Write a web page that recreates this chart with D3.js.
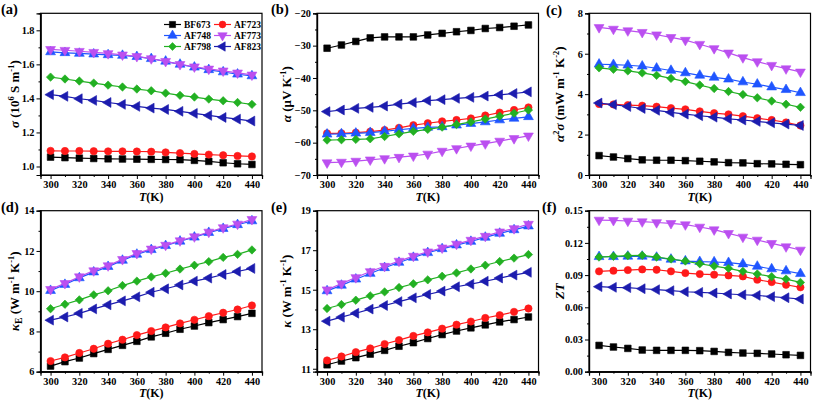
<!DOCTYPE html>
<html><head><meta charset="utf-8">
<script src="https://cdn.jsdelivr.net/npm/d3@7"></script>
<style>body{margin:0;background:#fff}svg{display:block}text{font-family:"Liberation Serif","Times New Roman",serif;font-weight:bold}</style>
</head><body>
<svg id="chart" width="813" height="402"></svg>
<script>
const temps = [300,310,320,330,340,350,360,370,380,390,400,410,420,430,440];
const samples = ["BF673","AF723","AF748","AF773","AF798","AF823"];
const colors = ["#000000","#ff1a1a","#1f55ff","#bb4ff0","#22b022","#1c1cae"];
const shapes = ["square","circle","up","down","diamond","left"];

// (a) electrical conductivity, 10^6 S/m
const sigma = [
 [1.055,1.052,1.049,1.047,1.045,1.044,1.043,1.042,1.041,1.040,1.036,1.030,1.022,1.016,1.012],
 [1.092,1.091,1.091,1.090,1.089,1.089,1.088,1.087,1.083,1.079,1.074,1.070,1.066,1.062,1.059],
 [1.673,1.668,1.664,1.660,1.656,1.652,1.645,1.633,1.618,1.600,1.583,1.568,1.555,1.542,1.532],
 [1.688,1.683,1.677,1.671,1.664,1.656,1.647,1.634,1.618,1.600,1.586,1.573,1.562,1.550,1.538],
 [1.525,1.514,1.502,1.490,1.478,1.467,1.455,1.445,1.431,1.418,1.408,1.396,1.386,1.376,1.365],
 [1.422,1.412,1.398,1.388,1.376,1.365,1.353,1.343,1.335,1.324,1.312,1.300,1.288,1.278,1.267]
];
// (b) Seebeck coefficient, uV/K
const alpha = [
 [-30.8,-29.8,-28.7,-27.6,-27.3,-27.3,-27.3,-26.7,-26.2,-25.7,-25.3,-24.7,-24.4,-24.0,-23.6],
 [-57.1,-57.1,-56.9,-56.6,-56.1,-55.4,-54.6,-54.0,-53.4,-53.0,-52.5,-51.6,-50.7,-49.9,-49.1],
 [-57.4,-57.3,-57.1,-56.9,-56.5,-56.0,-55.6,-55.3,-55.1,-54.6,-54.1,-53.6,-53.0,-52.5,-52.0],
 [-66.2,-66.0,-65.7,-65.3,-64.9,-64.5,-64.1,-63.5,-62.6,-61.8,-61.0,-60.3,-59.5,-58.7,-57.9],
 [-59.2,-59.1,-59.0,-58.8,-58.1,-57.3,-56.5,-55.9,-55.2,-54.4,-53.6,-52.7,-51.8,-50.9,-49.9],
 [-50.4,-49.9,-49.4,-49.1,-48.7,-48.1,-47.6,-47.0,-46.7,-46.3,-46.0,-45.6,-45.2,-44.8,-44.3]
];
// (c) power factor, mW m^-1 K^-2
const powerFactor = [
 [0.96,0.89,0.81,0.75,0.73,0.73,0.71,0.68,0.65,0.61,0.60,0.56,0.55,0.53,0.51],
 [3.51,3.49,3.46,3.43,3.38,3.31,3.25,3.15,3.06,3.00,2.91,2.81,2.72,2.60,2.45],
 [5.48,5.46,5.43,5.38,5.28,5.17,5.05,4.93,4.83,4.74,4.60,4.49,4.35,4.22,4.07],
 [7.30,7.22,7.14,7.06,6.94,6.81,6.67,6.47,6.26,6.04,5.81,5.61,5.43,5.26,5.10],
 [5.30,5.23,5.15,5.05,4.93,4.78,4.62,4.45,4.28,4.13,3.98,3.82,3.66,3.50,3.35],
 [3.56,3.48,3.39,3.29,3.20,3.10,3.01,2.93,2.86,2.78,2.72,2.65,2.58,2.52,2.45]
];
// (d) electronic thermal conductivity
const kappaE = [
 [6.28,6.50,6.68,6.90,7.11,7.31,7.51,7.73,7.91,8.11,8.27,8.44,8.59,8.74,8.90],
 [6.53,6.71,6.93,7.14,7.39,7.59,7.82,8.02,8.20,8.40,8.58,8.76,8.93,9.09,9.29],
 [10.03,10.33,10.66,10.95,11.22,11.53,11.83,12.06,12.26,12.48,12.68,12.91,13.11,13.30,13.49],
 [10.09,10.39,10.72,11.02,11.27,11.58,11.88,12.10,12.29,12.51,12.71,12.94,13.16,13.34,13.57],
 [9.13,9.35,9.57,9.82,10.02,10.28,10.50,10.71,10.89,11.10,11.29,11.47,11.68,11.83,12.05],
 [8.56,8.72,8.90,9.12,9.32,9.52,9.72,9.95,10.12,10.31,10.50,10.65,10.83,10.98,11.13]
];
// (e) total thermal conductivity
const kappa = [
 [11.20,11.39,11.56,11.74,11.93,12.14,12.32,12.53,12.73,12.91,13.07,13.22,13.37,13.49,13.62],
 [11.42,11.62,11.84,12.03,12.25,12.45,12.66,12.84,13.03,13.23,13.39,13.57,13.71,13.88,14.05],
 [14.94,15.22,15.53,15.82,16.11,16.38,16.63,16.87,17.07,17.26,17.44,17.65,17.85,18.03,18.22],
 [15.00,15.31,15.62,15.92,16.19,16.45,16.70,16.92,17.12,17.31,17.51,17.71,17.93,18.10,18.32],
 [14.05,14.25,14.47,14.69,14.89,15.11,15.30,15.50,15.68,15.85,16.05,16.24,16.43,16.60,16.78],
 [13.41,13.61,13.81,14.02,14.20,14.40,14.59,14.76,14.93,15.15,15.28,15.43,15.59,15.74,15.88]
];
// (f) figure of merit ZT
const zt = [
 [0.0245,0.0230,0.0217,0.0202,0.0199,0.0199,0.0199,0.0196,0.0189,0.0180,0.0174,0.0171,0.0165,0.0158,0.0152],
 [0.0935,0.0941,0.0947,0.0953,0.0950,0.0935,0.0919,0.0910,0.0904,0.0897,0.0888,0.0857,0.0835,0.0810,0.0786],
 [0.1071,0.1071,0.1075,0.1075,0.1065,0.1047,0.1031,0.1025,0.1022,0.1016,0.1003,0.0981,0.0957,0.0938,0.0913],
 [0.1413,0.1410,0.1404,0.1398,0.1390,0.1382,0.1370,0.1348,0.1323,0.1289,0.1255,0.1227,0.1196,0.1165,0.1134],
 [0.1068,0.1075,0.1081,0.1084,0.1068,0.1050,0.1031,0.1006,0.0984,0.0963,0.0935,0.0910,0.0885,0.0863,0.0832],
 [0.0792,0.0786,0.0783,0.0773,0.0764,0.0755,0.0745,0.0739,0.0733,0.0724,0.0717,0.0711,0.0699,0.0689,0.0677]
];

const xTicks = [300,320,340,360,380,400,420,440];
const xMinor = [310,330,350,370,390,410,430];
const ticksA = [1.0,1.2,1.4,1.6,1.8];
const ticksB = [-70,-60,-50,-40,-30,-20];
const ticksC = [0,2,4,6,8];
const ticksD = [6,8,10,12,14];
const ticksE = [11,13,15,17,19];
const ticksF = [0,0.03,0.06,0.09,0.12,0.15];

const svg = d3.select("#chart");
const cols = [{l:40.5,r:262},{l:317,r:538.5},{l:589,r:810.5}];
const rows = [{t:13.3,b:175},{t:210.7,b:371.7}];
const YT = 13;

function symbolPath(shape, s) {
  const tri = d3.symbol().type(d3.symbolTriangle).size(s)();
  switch(shape){
    case "square": return {d:d3.symbol().type(d3.symbolSquare).size(s)(), rot:0};
    case "circle": return {d:d3.symbol().type(d3.symbolCircle).size(s*0.95)(), rot:0};
    case "diamond": return {d:d3.symbol().type(d3.symbolSquare).size(s*0.8)(), rot:45};
    case "up": return {d:tri, rot:0};
    case "down": return {d:tri, rot:180};
    case "left": return {d:tri, rot:-90};
  }
}

function addRich(textSel, parts, baseSize) {
  const up = baseSize*0.4;
  parts.forEach(p => {
    const t = textSel.append("tspan").text(p.t);
    if (p.i) t.attr("font-style","italic");
    if (p.sup) t.attr("font-size", baseSize*0.65).attr("dy", -up);
    if (p.sub) t.attr("font-size", baseSize*0.75).attr("dy", baseSize*0.25);
    if (p.back === "down") t.attr("dy", up);
    if (p.back === "subup") t.attr("dy", -baseSize*0.25);
  });
}

function drawPanel(cfg) {
  const c = cols[cfg.col], r = rows[cfg.row];
  const x = d3.scaleLinear().domain([293,447]).range([c.l,c.r]);
  const y = d3.scaleLinear().domain(cfg.yDomain).range([r.b,r.t]);
  const g = svg.append("g");

  cfg.data.forEach((vals, si) => {
    const pts = temps.map((t,i)=>[t, vals[i]]);
    g.append("path").datum(pts)
      .attr("fill","none").attr("stroke",colors[si]).attr("stroke-width",1.2)
      .attr("d", d3.line().x(d=>x(d[0])).y(d=>y(d[1])));
    const isTri = ["up","down","left"].includes(shapes[si]);
    const sp = symbolPath(shapes[si], isTri ? 42 : 44);
    g.selectAll(null).data(pts).join("path")
      .attr("d", sp.d)
      .attr("transform", d=>`translate(${x(d[0])},${y(d[1])}) rotate(${sp.rot})`)
      .attr("fill", colors[si]).attr("stroke", colors[si]).attr("stroke-width",0.6);
  });

  g.append("rect").attr("x",c.l).attr("y",r.t).attr("width",c.r-c.l).attr("height",r.b-r.t)
    .attr("fill","none").attr("stroke","#000").attr("stroke-width",1.2);

  g.append("g").attr("transform",`translate(0,${r.b})`)
    .call(d3.axisBottom(x).tickValues(xTicks).tickSize(4).tickPadding(1.5).tickFormat(d3.format("d")));
  g.append("g").attr("transform",`translate(0,${r.b})`)
    .call(d3.axisBottom(x).tickValues(xMinor).tickSize(2).tickFormat(""));
  g.append("g").attr("transform",`translate(${c.l},0)`)
    .call(d3.axisLeft(y).tickValues(cfg.ticks).tickSize(4).tickPadding(2).tickFormat(d3.format(cfg.fmt)));
  const minor = [];
  for (let i=0;i<cfg.ticks.length-1;i++) minor.push((cfg.ticks[i]+cfg.ticks[i+1])/2);
  g.append("g").attr("transform",`translate(${c.l},0)`)
    .call(d3.axisLeft(y).tickValues(minor).tickSize(2).tickFormat(""));
  g.selectAll(".domain").attr("stroke","#000").attr("stroke-width",1.2);
  g.selectAll(".tick line").attr("stroke","#000").attr("stroke-width",1);
  g.selectAll(".tick text").attr("font-size",10.3).attr("font-family","Liberation Serif").attr("font-weight","bold").attr("fill","#000");

  const xt = g.append("text").attr("x",(c.l+c.r)/2).attr("y", r.b+25.5)
    .attr("text-anchor","middle").attr("font-size",12);
  addRich(xt, [{t:"T",i:true},{t:"(K)"}], 12);

  const yt = g.append("text").attr("text-anchor","middle").attr("font-size",YT)
    .attr("transform",`translate(${cfg.ytx},${(r.t+r.b)/2}) rotate(-90)`);
  addRich(yt, cfg.ytitle, YT);

  g.append("text").attr("x",cfg.lx).attr("y",cfg.ly).attr("font-size",14.5).text(cfg.label);
}

drawPanel({data:sigma,col:0,row:0,yDomain:[0.95,1.9],ticks:ticksA,fmt:".1f",ytx:19,lx:1,ly:14,label:"(a)",
  ytitle:[{t:"σ",i:true},{t:" (10"},{t:"6",sup:true},{t:" S m",back:"down"},{t:"-1",sup:true},{t:")",back:"down"}]});
drawPanel({data:alpha,col:1,row:0,yDomain:[-70,-20],ticks:ticksB,fmt:"d",ytx:291,lx:271,ly:14,label:"(b)",
  ytitle:[{t:"α",i:true},{t:" (μV K"},{t:"-1",sup:true},{t:")",back:"down"}]});
drawPanel({data:powerFactor,col:2,row:0,yDomain:[0,8],ticks:ticksC,fmt:"d",ytx:564,lx:546,ly:15,label:"(c)",
  ytitle:[{t:"α",i:true},{t:"2",sup:true},{t:"σ",i:true,back:"down"},{t:" (mW m"},{t:"-1",sup:true},{t:" K",back:"down"},{t:"-2",sup:true},{t:")",back:"down"}]});
drawPanel({data:kappaE,col:0,row:1,yDomain:[6,14],ticks:ticksD,fmt:"d",ytx:19,lx:1,ly:212,label:"(d)",
  ytitle:[{t:"κ",i:true},{t:"E",sub:true},{t:" (W m",back:"subup"},{t:"-1",sup:true},{t:" K",back:"down"},{t:"-1",sup:true},{t:")",back:"down"}]});
drawPanel({data:kappa,col:1,row:1,yDomain:[10.85,19],ticks:ticksE,fmt:"d",ytx:291,lx:271,ly:212,label:"(e)",
  ytitle:[{t:"κ",i:true},{t:" (W m"},{t:"-1",sup:true},{t:" K",back:"down"},{t:"-1",sup:true},{t:")",back:"down"}]});
drawPanel({data:zt,col:2,row:1,yDomain:[0,0.15],ticks:ticksF,fmt:".2f",ytx:564,lx:542,ly:212,label:"(f)",
  ytitle:[{t:"ZT",i:true}]});

const leg = svg.append("g");
const legCols = [164, 214];
const legRows = [24.5, 35.5, 46.5];
samples.forEach((name, i) => {
  const cx = legCols[i%2], cy = legRows[Math.floor(i/2)];
  leg.append("line").attr("x1",cx).attr("x2",cx+17).attr("y1",cy).attr("y2",cy)
    .attr("stroke",colors[i]).attr("stroke-width",1.2);
  const sp = symbolPath(shapes[i], 38);
  leg.append("path").attr("d",sp.d).attr("transform",`translate(${cx+8.5},${cy}) rotate(${sp.rot})`)
    .attr("fill",colors[i]).attr("stroke",colors[i]).attr("stroke-width",0.6);
  leg.append("text").attr("x",cx+20).attr("y",cy+3.5).attr("font-size",9.5).text(name);
});
</script>
</body></html>
